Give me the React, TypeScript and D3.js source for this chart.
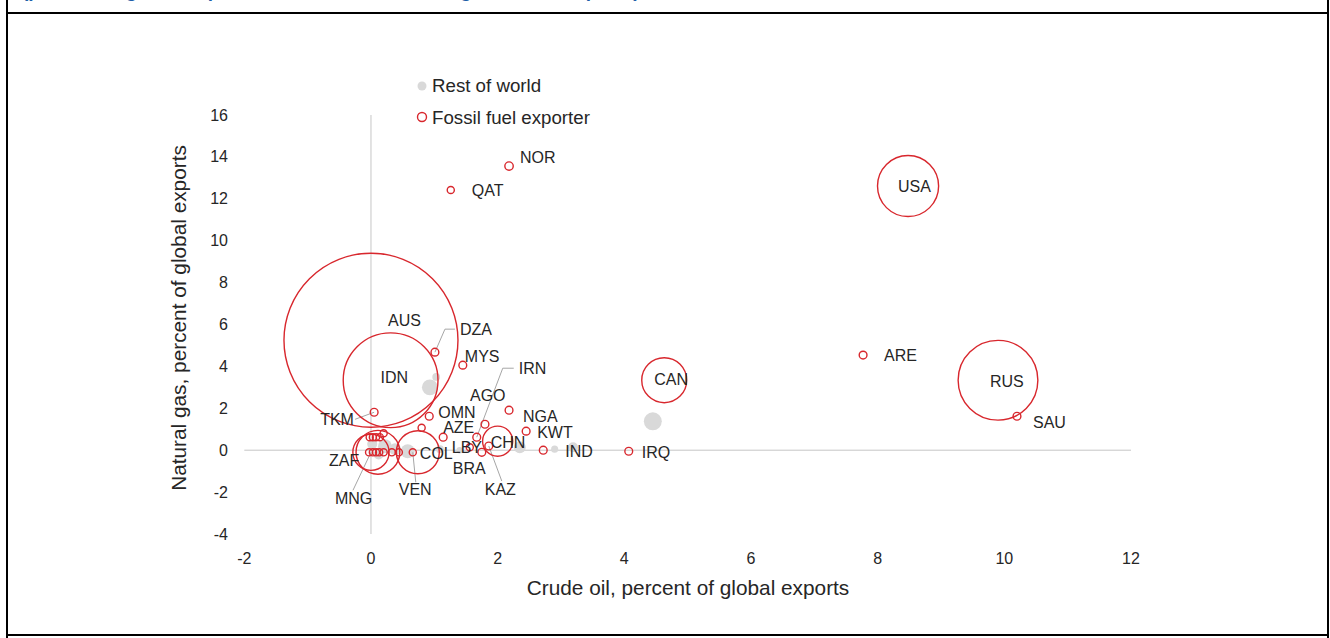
import React from 'react';
import * as d3 from 'd3';

// Fossil fuel exporters (red hollow bubbles)
const exporterNames = [
  'NOR', 'QAT', 'USA', 'ARE', 'RUS', 'SAU', 'CAN', 'IRQ', 'IND', 'KWT',
  'NGA', 'IRN', 'AGO', 'OMN', 'AZE', 'CHN', 'LBY', 'COL', 'BRA', 'KAZ',
  'VEN', 'MNG', 'ZAF', 'TKM', 'AUS', 'IDN', 'DZA', 'MYS',
  '', '', '', '', '', '', '', '', '', '', '', '', '',
];
const exporterCrude = [
  2.18, 1.26, 8.48, 7.77, 9.9, 10.2, 4.63, 4.07, 2.72, 2.45,
  2.18, 1.67, 1.8, 0.92, 1.14, 2.0, 1.56, 0.74, 1.75, 1.86,
  0.66, 0.0, 0.11, 0.05, 0.0, 0.31, 1.01, 1.45,
  0.8, -0.02, 0.03, 0.08, 0.14, 0.2, 0.03, 0.08, 0.13, 0.2, 0.33, 0.44, -0.03,
];
const exporterGas = [
  13.56, 12.42, 12.61, 4.54, 3.34, 1.62, 3.34, -0.05, 0.0, 0.91,
  1.91, 0.62, 1.24, 1.62, 0.62, 0.43, 0.14, -0.1, -0.1, 0.2,
  -0.1, -0.1, -0.1, 1.81, 5.25, 3.34, 4.68, 4.06,
  1.07, 0.62, 0.62, 0.62, 0.62, 0.81, -0.1, -0.1, -0.1, -0.1, -0.1, -0.1, -0.1,
];
// bubble size: share of global coal exports
const exporterCoal = [
  0.07, 0.05, 3.7, 0.06, 6.3, 0.06, 2.0, 0.06, 0.06, 0.06,
  0.06, 0.06, 0.06, 0.06, 0.06, 0.9, 0.05, 1.83, 0.06, 0.06,
  0.05, 1.3, 1.9, 0.06, 30, 8.9, 0.06, 0.06,
  0.05, 0.05, 0.05, 0.05, 0.05, 0.05, 0.05, 0.05, 0.05, 0.05, 0.05, 0.05, 0.05,
];

// Rest of world (grey filled bubbles)
const restCrude = [4.45, 0.93, 1.03, 3.19, 2.35, 0.58, 0.38, 0.22, 0.02, 1.09, 1.4, 0.12, 2.9];
const restGas = [1.38, 3.0, 3.5, 0.14, 0.14, -0.05, 0.05, 0.19, 0.29, 0.05, 0.0, -0.2, 0.05];
const restCoal = [0.32, 0.25, 0.06, 0.1, 0.14, 0.19, 0.14, 0.19, 0.1, 0.06, 0.04, 0.1, 0.05];

const xTicks = [-2, 0, 2, 4, 6, 8, 10, 12];
const yTicks = [-4, -2, 0, 2, 4, 6, 8, 10, 12, 14, 16];

// label placement (px offset of label start from bubble centre) and leader elbows
const labelPlacement: Record<string, { dx: number; dy: number; leader?: [number, number][] }> = {
  NOR: { dx: 11, dy: -9 },
  QAT: { dx: 21, dy: 0 },
  USA: { dx: -10, dy: 0 },
  ARE: { dx: 21, dy: 0 },
  RUS: { dx: -8, dy: 1 },
  SAU: { dx: 16, dy: 6 },
  CAN: { dx: -10, dy: -1 },
  IRQ: { dx: 13, dy: 1 },
  IND: { dx: 22, dy: 1 },
  KWT: { dx: 11, dy: 1 },
  NGA: { dx: 14, dy: 6 },
  IRN: { dx: 42, dy: -69, leader: [[26, -69], [37, -69]] },
  AGO: { dx: -15, dy: -29 },
  OMN: { dx: 9, dy: -4 },
  AZE: { dx: 0, dy: -10 },
  CHN: { dx: -7, dy: 1 },
  LBY: { dx: -18, dy: 0 },
  COL: { dx: 2, dy: 1 },
  BRA: { dx: -29, dy: 16 },
  KAZ: { dx: -4, dy: 43, leader: [[13, 35]] },
  VEN: { dx: -14, dy: 37, leader: [[3, 30]] },
  MNG: { dx: -36, dy: 46, leader: [[-18, 38]] },
  ZAF: { dx: -49, dy: 8 },
  TKM: { dx: -54, dy: 7, leader: [[-19, 7]] },
  AUS: { dx: 17, dy: -20 },
  IDN: { dx: -10, dy: -3 },
  DZA: { dx: 25, dy: -23, leader: [[10, -23], [20, -23]] },
  MYS: { dx: 2, dy: -9 },
};

const FONT = 'Arial, "Liberation Sans", Helvetica, sans-serif';
const RED = '#d8272d';
const GREY = '#d9d9d9';
const TEXT = '#262626';

const App: React.FC = () => {
  const width = 1330;
  const height = 638;

  const x = d3.scaleLinear().domain([-2, 12]).range([244.3, 1131]);
  const y = d3.scaleLinear().domain([-4, 16]).range([534, 115]);
  const r = d3.scaleSqrt().domain([0, 30]).range([0, 87]);

  const exporters = exporterNames.map((name, i) => ({
    name,
    crude: exporterCrude[i],
    gas: exporterGas[i],
    coal: exporterCoal[i],
  }));
  const rest = restCrude.map((c, i) => ({ crude: c, gas: restGas[i], coal: restCoal[i] }));

  const leaderLine = d3.line<[number, number]>();

  return (
    <svg
      width={width}
      height={height}
      style={{ position: 'absolute', left: 0, top: 0, background: '#fff' }}
      fontFamily={FONT}
    >
      {/* section title, cut off by the top of the picture */}
      <text x={22} y={-3} fill="#1f5fa8" fontWeight="bold" fontSize={19}>
        (percent of global exports, bubble size: share of global coal exports)
      </text>

      {/* frame */}
      <line x1={7} x2={7} y1={0} y2={638} stroke="#000" strokeWidth={2} />
      <line x1={1328} x2={1328} y1={0} y2={638} stroke="#000" strokeWidth={2} />
      <line x1={7} x2={1328} y1={13} y2={13} stroke="#000" strokeWidth={2} />
      <line x1={7} x2={1328} y1={635} y2={635} stroke="#000" strokeWidth={2} />

      {/* zero axes */}
      <line x1={x(-2)} x2={x(12)} y1={y(0)} y2={y(0)} stroke="#c6c6c6" strokeWidth={1} />
      <line x1={x(0)} x2={x(0)} y1={y(16)} y2={y(-4)} stroke="#c6c6c6" strokeWidth={1} />

      {/* tick labels */}
      {xTicks.map((t) => (
        <text key={`x${t}`} x={x(t)} y={558} textAnchor="middle" dominantBaseline="central" fontSize={16} fill={TEXT}>
          {t}
        </text>
      ))}
      {yTicks.map((t) => (
        <text key={`y${t}`} x={228} y={y(t)} textAnchor="end" dominantBaseline="central" fontSize={16} fill={TEXT}>
          {t}
        </text>
      ))}

      {/* axis titles */}
      <text x={688} y={587} textAnchor="middle" dominantBaseline="central" fontSize={20.8} fill={TEXT}>
        Crude oil, percent of global exports
      </text>
      <text
        transform={`translate(178,${318}) rotate(-90)`}
        textAnchor="middle"
        dominantBaseline="central"
        fontSize={20.8}
        fill={TEXT}
      >
        Natural gas, percent of global exports
      </text>

      {/* rest of world */}
      {rest.map((d, i) => (
        <circle key={`r${i}`} cx={x(d.crude)} cy={y(d.gas)} r={r(d.coal)} fill={GREY} />
      ))}

      {/* leader lines */}
      {exporters
        .filter((d) => d.name && labelPlacement[d.name]?.leader)
        .map((d) => {
          const cx = x(d.crude);
          const cy = y(d.gas);
          const pts: [number, number][] = [[cx, cy], ...labelPlacement[d.name].leader!.map(([lx, ly]) => [cx + lx, cy + ly] as [number, number])];
          return <path key={`l${d.name}`} d={leaderLine(pts) || ''} fill="none" stroke="#a6a6a6" strokeWidth={1} />;
        })}

      {/* fossil fuel exporters */}
      {exporters.map((d, i) => (
        <circle key={`e${i}`} cx={x(d.crude)} cy={y(d.gas)} r={r(d.coal)} fill="none" stroke={RED} strokeWidth={1.4} />
      ))}

      {/* data labels */}
      {exporters
        .filter((d) => d.name)
        .map((d) => {
          const p = labelPlacement[d.name];
          return (
            <text
              key={`t${d.name}`}
              x={x(d.crude) + p.dx}
              y={y(d.gas) + p.dy}
              dominantBaseline="central"
              fontSize={16}
              fill={TEXT}
            >
              {d.name}
            </text>
          );
        })}

      {/* legend */}
      <circle cx={422} cy={86} r={4.5} fill={GREY} />
      <text x={432} y={85} dominantBaseline="central" fontSize={18.7} fill={TEXT}>
        Rest of world
      </text>
      <circle cx={422} cy={117} r={4.5} fill="none" stroke={RED} strokeWidth={1.4} />
      <text x={432} y={117} dominantBaseline="central" fontSize={18.7} fill={TEXT}>
        Fossil fuel exporter
      </text>
    </svg>
  );
};

export default App;
